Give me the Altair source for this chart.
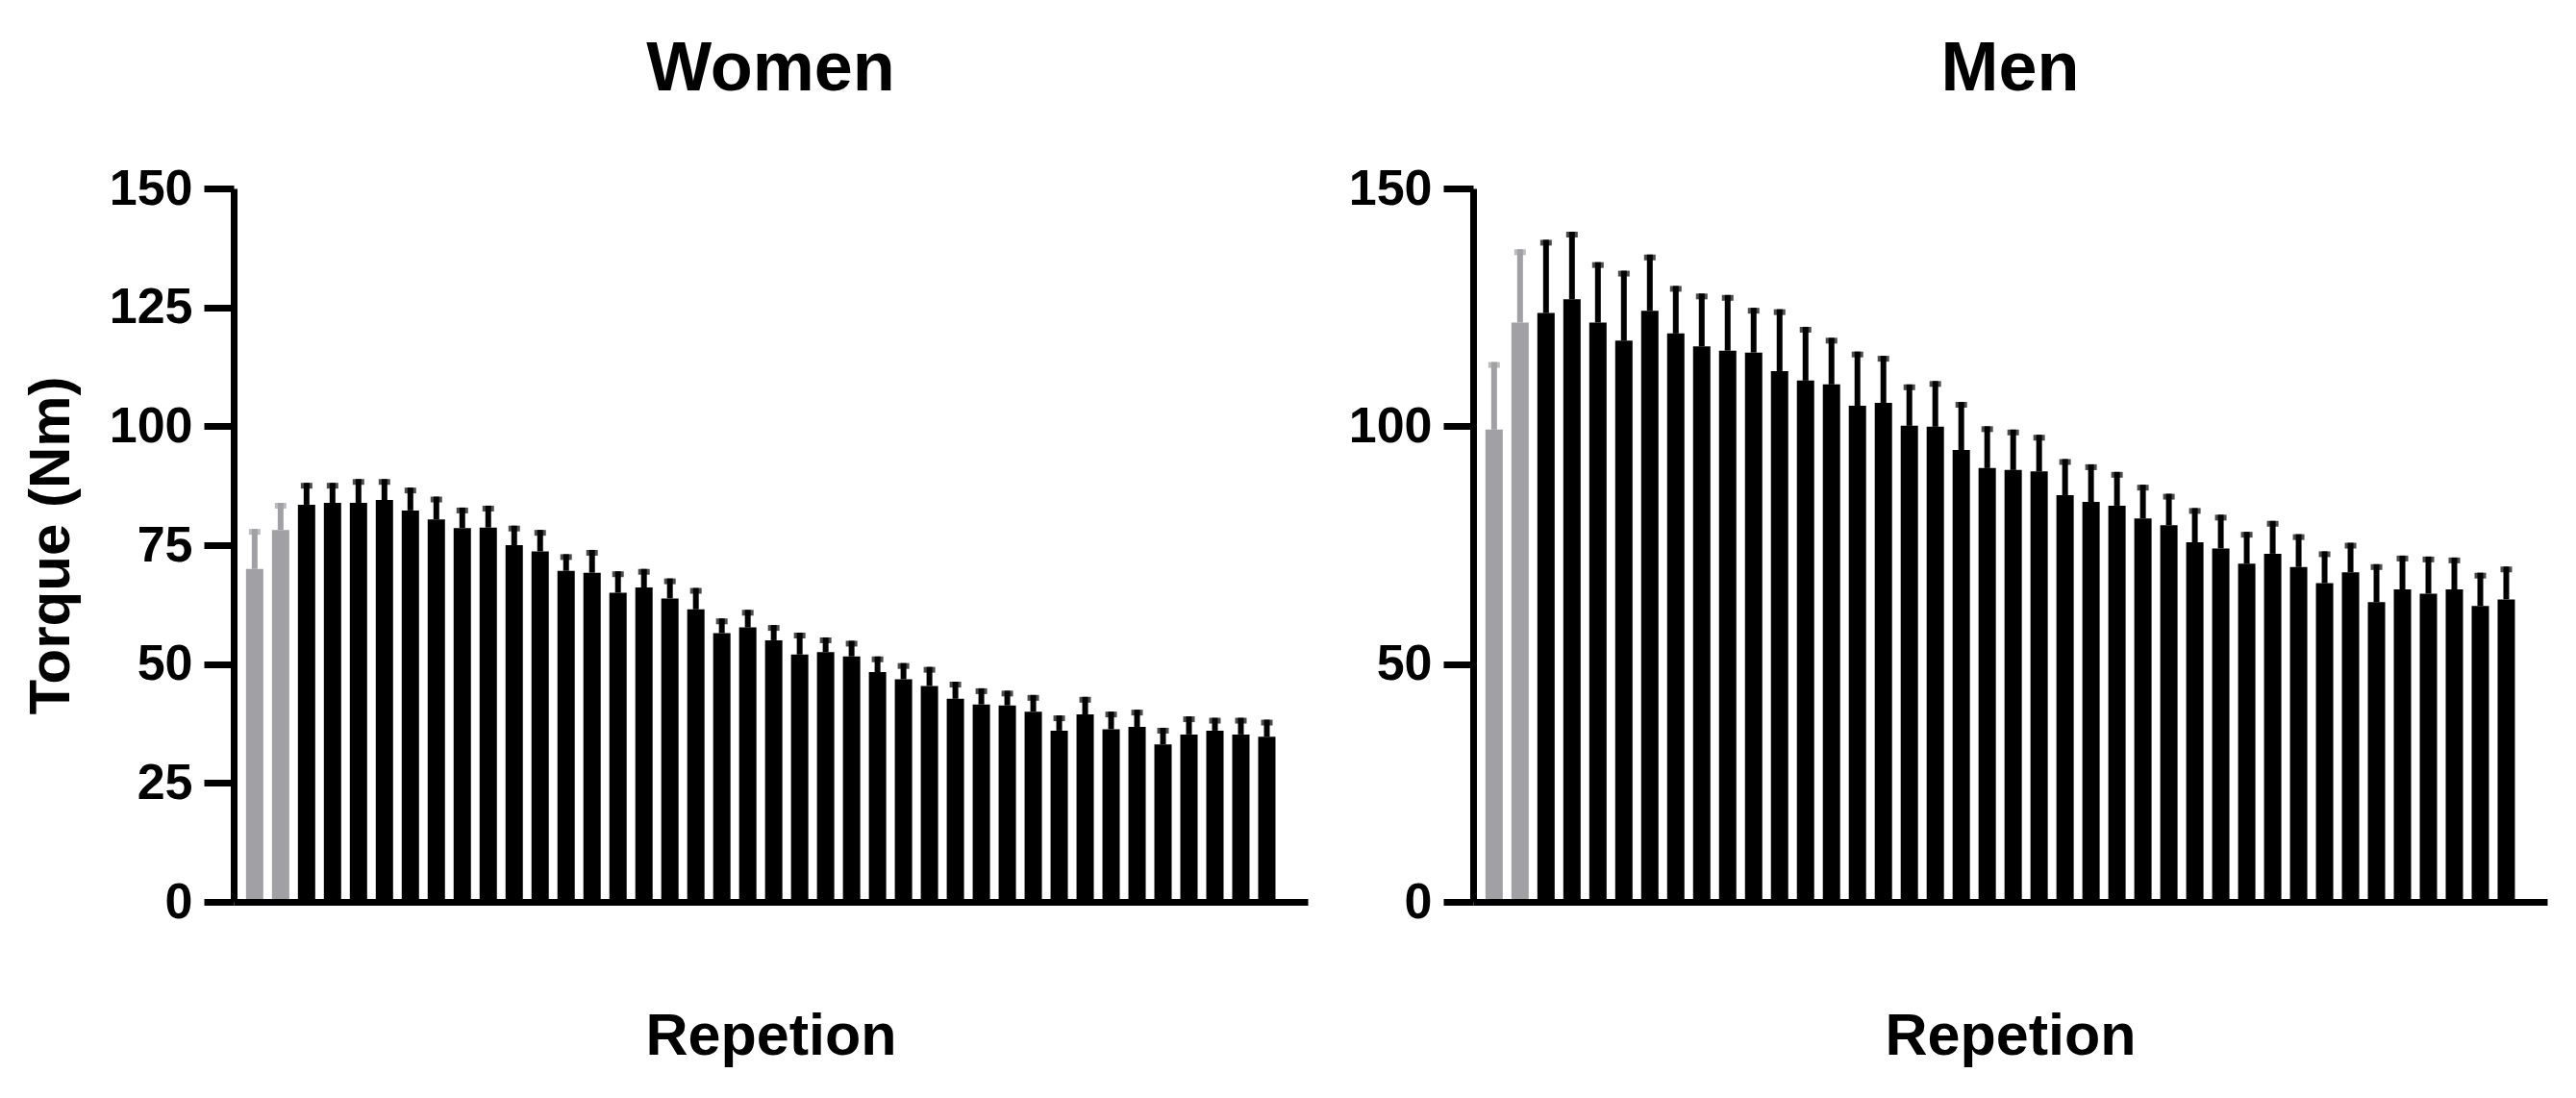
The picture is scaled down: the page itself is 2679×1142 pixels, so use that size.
import altair as alt
import pandas as pd

# ---- data ----
repetitions = list(range(1, 41))
phase = ["Baseline", "Baseline"] + ["Fatigue"] * 38

women_mean = [70.0, 78.2, 83.5, 83.9, 83.9, 84.5, 82.3, 80.4, 78.6, 78.7,
              75.0, 73.7, 69.6, 69.2, 65.0, 66.1, 63.8, 61.5, 56.5, 57.7,
              55.0, 52.0, 52.5, 51.6, 48.3, 46.8, 45.4, 42.7, 41.5, 41.3,
              40.0, 36.0, 39.4, 36.3, 36.8, 33.1, 35.2, 36.0, 35.2, 34.7]
women_sd = [8.4, 5.7, 4.6, 4.2, 5.0, 4.4, 4.8, 4.8, 4.3, 4.6,
            4.1, 4.5, 3.5, 4.8, 4.5, 3.9, 4.2, 4.5, 3.1, 3.7,
            3.2, 4.6, 3.1, 3.3, 3.3, 3.4, 4.0, 3.6, 3.4, 3.1,
            3.5, 3.2, 3.7, 3.7, 3.6, 3.5, 3.8, 2.7, 3.5, 3.6]

men_mean = [99.3, 121.8, 123.8, 126.7, 121.8, 118.0, 124.3, 119.5, 116.8, 115.9,
            115.5, 111.6, 109.6, 108.8, 104.3, 104.9, 100.1, 99.9, 95.0, 91.2,
            90.8, 90.5, 85.5, 84.1, 83.3, 80.6, 79.2, 75.6, 74.3, 71.1,
            73.2, 70.4, 67.0, 69.3, 63.0, 65.7, 64.8, 65.7, 62.2, 63.6]
men_sd = [14.2, 15.4, 15.4, 14.2, 12.7, 14.7, 11.8, 10.0, 11.1, 11.7,
          9.4, 13.0, 11.3, 9.8, 11.4, 9.9, 8.7, 9.6, 10.1, 8.8,
          8.5, 7.7, 7.6, 7.9, 7.1, 7.1, 6.6, 7.2, 7.1, 6.7,
          6.9, 6.9, 6.7, 6.2, 8.0, 7.1, 7.8, 6.7, 7.0, 6.9]

women_ticks = [0, 25, 50, 75, 100, 125, 150]
men_ticks = [0, 50, 100, 150]

FONT = "Liberation Sans"
color_scale = alt.Scale(domain=["Baseline", "Fatigue"], range=["#a0a0a5", "#000000"])
x_scale = alt.Scale(domain=[0.376, 41.39], nice=False, zero=False)
y_scale = alt.Scale(domain=[0, 150], nice=False)


def panel(mean, sd, title, ticks, ytitle):
    df = pd.DataFrame({
        "rep": repetitions,
        "phase": phase,
        "mean": mean,
        "top": [m + s for m, s in zip(mean, sd)],
    })
    x = alt.X("rep:Q", scale=x_scale,
              axis=alt.Axis(title="Repetion", labels=False, ticks=False, grid=False,
                            titlePadding=110, titleFontSize=61, zindex=1))
    if ytitle:
        yaxis = alt.Axis(values=ticks, grid=False, title=ytitle, titleFontSize=60,
                         titlePadding=29, zindex=1)
    else:
        yaxis = alt.Axis(values=ticks, grid=False, title=None, zindex=1)
    color = alt.Color("phase:N", scale=color_scale, legend=None)

    bars = alt.Chart(df).mark_bar(width=18).encode(
        x=x,
        y=alt.Y("mean:Q", scale=y_scale, axis=yaxis),
        color=color,
    )
    stems = alt.Chart(df).mark_rule(strokeWidth=6).encode(
        x="rep:Q", y="mean:Q", y2="top:Q", color=color,
    )
    caps = alt.Chart(df).mark_tick(orient="horizontal", size=12, thickness=6, yOffset=3).encode(
        x="rep:Q", y="top:Q", color=color,
    )
    return alt.layer(bars, stems, caps).properties(
        width=1117, height=742, title=title
    )


women = panel(women_mean, women_sd, "Women", women_ticks, "Torque (Nm)")
men = panel(men_mean, men_sd, "Men", men_ticks, None)

chart = alt.hconcat(women, men, spacing=42).properties(
    padding={"left": 15, "top": 28, "right": 5, "bottom": 5}
).configure_view(stroke=None).configure_axis(
    domainColor="black", domainWidth=7, tickColor="black", tickWidth=7, tickSize=31,
    labelFont=FONT, labelFontWeight="bold", labelFontSize=52, labelColor="black",
    labelPadding=12, titleFont=FONT, titleFontWeight="bold", titleColor="black",
).configure_title(
    font=FONT, fontWeight="bold", fontSize=72, color="black", anchor="middle", offset=61
)

chart.save("out.html", embed_options={"renderer": "svg", "actions": False})
